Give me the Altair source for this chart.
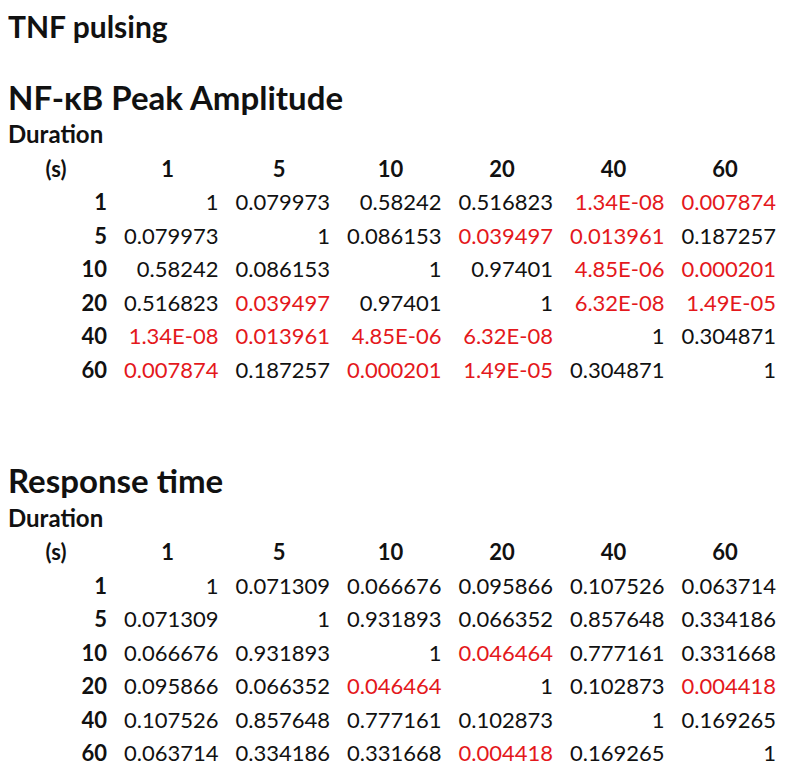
import altair as alt
import pandas as pd

# ---------------- data ----------------
main_title = "TNF pulsing"
section_titles = ["NF-κB Peak Amplitude", "Response time"]
row_header_top = "Duration"
row_header_bottom = "(s)"
durations = ["1", "5", "10", "20", "40", "60"]

amplitude_p = [
    ["1", "0.079973", "0.58242", "0.516823", "1.34E-08", "0.007874"],
    ["0.079973", "1", "0.086153", "0.039497", "0.013961", "0.187257"],
    ["0.58242", "0.086153", "1", "0.97401", "4.85E-06", "0.000201"],
    ["0.516823", "0.039497", "0.97401", "1", "6.32E-08", "1.49E-05"],
    ["1.34E-08", "0.013961", "4.85E-06", "6.32E-08", "1", "0.304871"],
    ["0.007874", "0.187257", "0.000201", "1.49E-05", "0.304871", "1"],
]

response_p = [
    ["1", "0.071309", "0.066676", "0.095866", "0.107526", "0.063714"],
    ["0.071309", "1", "0.931893", "0.066352", "0.857648", "0.334186"],
    ["0.066676", "0.931893", "1", "0.046464", "0.777161", "0.331668"],
    ["0.095866", "0.066352", "0.046464", "1", "0.102873", "0.004418"],
    ["0.107526", "0.857648", "0.777161", "0.102873", "1", "0.169265"],
    ["0.063714", "0.334186", "0.331668", "0.004418", "0.169265", "1"],
]

tables = [amplitude_p, response_p]
ALPHA = 0.05

# ---------------- layout (line units) ----------------
TABLE_GAP = 11.44      # lines between the two tables
MAIN_TITLE_LINE = -5.15

cells, labels, headers, supers, sections = [], [], [], [], []
for t, mat in enumerate(tables):
    base = t * TABLE_GAP
    sections.append({"text": section_titles[t], "line": base - 3})
    supers.append({"text": row_header_top, "line": base - 2})
    headers.append({"text": row_header_bottom, "col": 0, "line": base - 1})
    for j, d in enumerate(durations):
        headers.append({"text": d, "col": j + 1, "line": base - 1})
    for i, d in enumerate(durations):
        labels.append({"text": d, "col": 0, "line": base + i})
        for j, v in enumerate(mat[i]):
            cells.append({
                "text": v, "col": j + 1, "line": base + i,
                "sig": "sig" if float(v) < ALPHA else "ns",
            })

FONT = "Lato"
INK = "#111111"
xscale = alt.Scale(domain=[0, 6], range=[99, 768])
yscale = alt.Scale(domain=[-3, 5 + TABLE_GAP], range=[102, 753])

X = alt.X("col:Q", scale=xscale, axis=None)
Y = alt.Y("line:Q", scale=yscale, axis=None)

cell_layer = alt.Chart(pd.DataFrame(cells)).mark_text(
    font=FONT, fontSize=22, align="right", baseline="alphabetic"
).encode(
    x=X, y=Y, text="text:N",
    color=alt.Color("sig:N", scale=alt.Scale(domain=["sig", "ns"], range=["#e4181c", INK]), legend=None),
)

label_layer = alt.Chart(pd.DataFrame(labels)).mark_text(
    font=FONT, fontSize=22, fontWeight="bold", align="right", baseline="alphabetic", color=INK
).encode(x=X, y=Y, text="text:N")

header_layer = alt.Chart(pd.DataFrame(headers)).mark_text(
    font=FONT, fontSize=22, fontWeight="bold", align="center", baseline="alphabetic", dx=-51, color=INK
).encode(x=X, y=Y, text="text:N")

super_layer = alt.Chart(pd.DataFrame(supers)).mark_text(
    font=FONT, fontSize=24, fontWeight="bold", align="left", baseline="alphabetic", color=INK
).encode(x=alt.value(0), y=Y, text="text:N")

section_layer = alt.Chart(pd.DataFrame(sections)).mark_text(
    font=FONT, fontSize=33, fontWeight="bold", align="left", baseline="alphabetic", color=INK
).encode(x=alt.value(0), y=Y, text="text:N")

title_layer = alt.Chart(pd.DataFrame([{"text": main_title, "line": MAIN_TITLE_LINE}])).mark_text(
    font=FONT, fontSize=30, fontWeight="bold", align="left", baseline="alphabetic", color=INK
).encode(x=alt.value(0), y=Y, text="text:N")

chart = alt.layer(
    title_layer, section_layer, super_layer, header_layer, label_layer, cell_layer
).properties(
    width=769, height=758,
    autosize=alt.AutoSizeParams(type="none"),
    padding=0,
    background="white",
).configure_view(stroke=None)

chart.save("out.html", embed_options={"renderer": "svg", "actions": False})
